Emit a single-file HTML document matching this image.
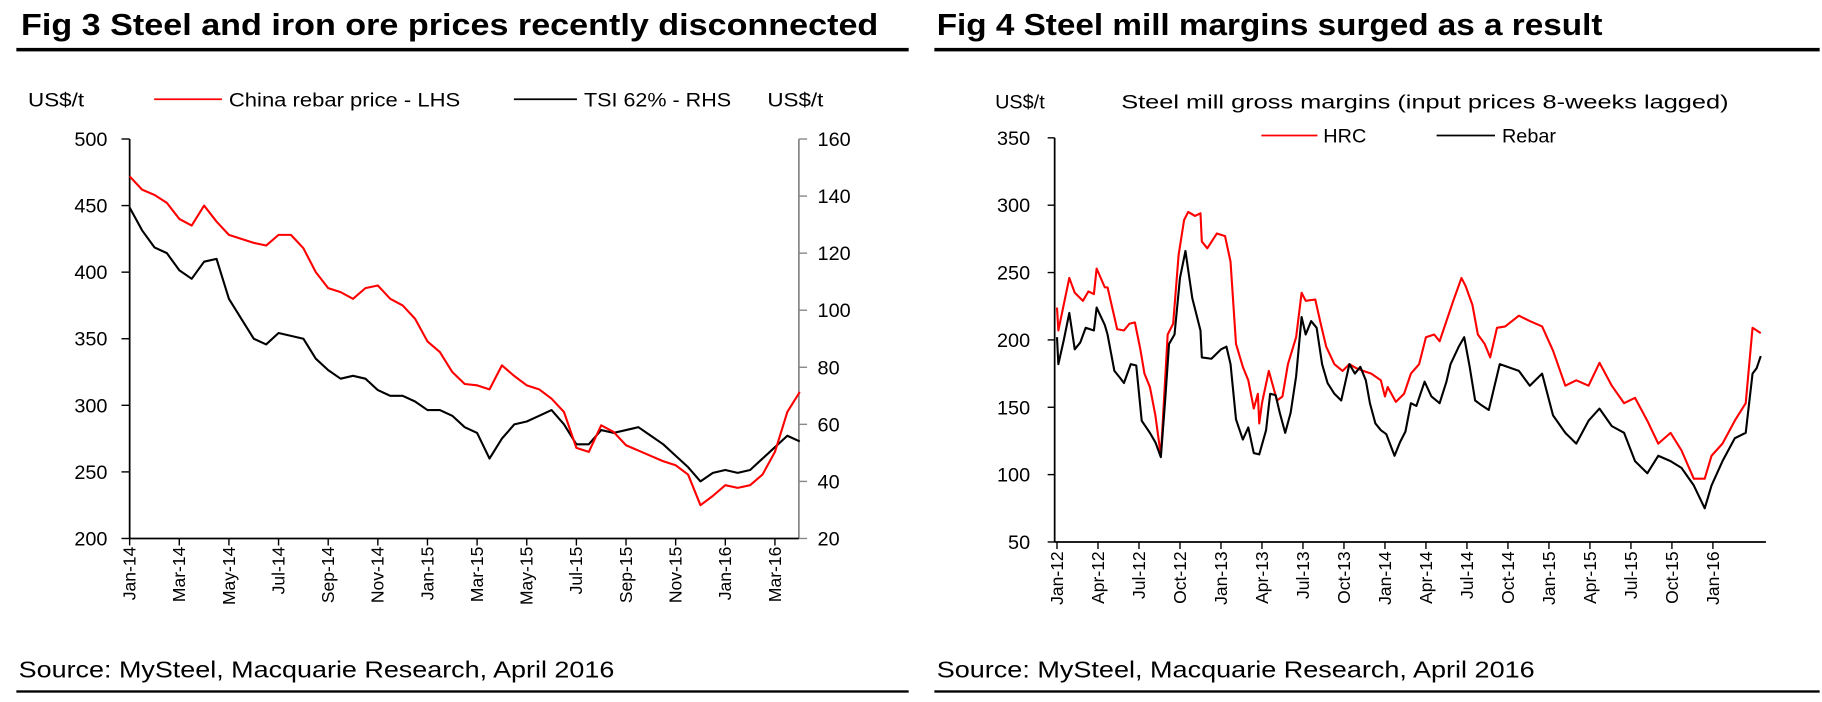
<!DOCTYPE html>
<html><head><meta charset="utf-8"><style>
html,body{margin:0;padding:0;background:#fff;}
svg{display:block;font-family:"Liberation Sans",Arial,sans-serif;}
</style></head><body>
<svg id="s" width="1822" height="702" viewBox="0 0 1560 601" preserveAspectRatio="none" xmlns="http://www.w3.org/2000/svg">
<g>
<text x="18" y="30" font-size="26" font-weight="bold" textLength="734" lengthAdjust="spacingAndGlyphs">Fig 3   Steel and iron ore prices recently disconnected</text>
<rect x="14" y="41" width="764" height="3" fill="#000"/>
</g>
<g>
<text x="802" y="30" font-size="26" font-weight="bold" textLength="570" lengthAdjust="spacingAndGlyphs">Fig 4   Steel mill margins surged as a result</text>
<rect x="800" y="41" width="758" height="3" fill="#000"/>
</g>
<text x="16" y="580" font-size="20" textLength="510" lengthAdjust="spacingAndGlyphs">Source: MySteel, Macquarie Research, April 2016</text>
<rect x="14" y="591" width="764" height="2" fill="#000"/>
<text x="802" y="580" font-size="20" textLength="512" lengthAdjust="spacingAndGlyphs">Source: MySteel, Macquarie Research, April 2016</text>
<rect x="800" y="591" width="758" height="2" fill="#000"/>

<g>
<text x="24" y="91" font-size="17" textLength="48" lengthAdjust="spacingAndGlyphs">US$/t</text>
<line x1="132" y1="85" x2="190" y2="85" stroke="#f00" stroke-width="1.5"/>
<text x="196" y="91" font-size="17" textLength="198" lengthAdjust="spacingAndGlyphs">China rebar price - LHS</text>
<line x1="440" y1="85" x2="494" y2="85" stroke="#000" stroke-width="1.5"/>
<text x="500" y="91" font-size="17" textLength="126" lengthAdjust="spacingAndGlyphs">TSI 62% - RHS</text>
<text x="657" y="91" font-size="17" textLength="48" lengthAdjust="spacingAndGlyphs">US$/t</text>
</g>
<g>
<text x="852" y="93" font-size="17">US$/t</text>
<text x="1220" y="93" font-size="17" text-anchor="middle" textLength="520" lengthAdjust="spacingAndGlyphs">Steel mill gross margins (input prices 8-weeks lagged)</text>
<line x1="1080" y1="116" x2="1128" y2="116" stroke="#f00" stroke-width="1.5"/>
<text x="1133" y="122" font-size="17">HRC</text>
<line x1="1230" y1="116" x2="1280" y2="116" stroke="#000" stroke-width="1.5"/>
<text x="1286" y="122" font-size="17">Rebar</text>
</g>
<g id="c1"></g>
<g id="c2"></g>
</svg>
<script>
// Fig 3 data: two points per month starting Jan-14
const fig3Rebar=[472,462,458,452,440,435,450,438,428,425,422,420,428,428,418,400,388,385,380,388,390,380,375,365,348,340,325,316,315,312,330,322,315,312,305,295,268,265,285,280,270,266,262,258,255,248,225,232,240,238,240,248,265,295,310];
const fig3Tsi=[136,128,122,120,114,111,117,118,104,97,90,88,92,91,90,83,79,76,77,76,72,70,70,68,65,65,63,59,57,48,55,60,61,63,65,60,53,53,58,57,58,59,56,53,49,45,40,43,44,43,44,48,52,56,54];
const fig3LeftTicks=[200,250,300,350,400,450,500];
const fig3RightTicks=[20,40,60,80,100,120,140,160];
const fig3XLabels=["Jan-14","Mar-14","May-14","Jul-14","Sep-14","Nov-14","Jan-15","Mar-15","May-15","Jul-15","Sep-15","Nov-15","Jan-16","Mar-16"];
// Fig 4 data: [month index from Jan-12, value]
const fig4HrcMonths=[0,0.1,0.9,1.3,1.9,2.3,2.7,2.9,3.5,3.7,4.2,4.4,4.9,5.3,5.7,6.1,6.4,6.8,7.2,7.6,8.1,8.5,8.9,9.3,9.6,10.1,10.5,10.6,11,11.7,12.3,12.7,13.1,13.6,14,14.4,14.7,14.8,15,15.5,16.1,16.5,16.9,17.5,17.9,18.2,18.9,19.3,19.7,20.3,20.9,21.4,21.9,22.4,23,23.7,24,24.2,24.8,25.4,25.9,26.5,27,27.6,28,28.5,29,29.6,29.9,30.4,30.8,31.3,31.7,32.2,32.8,33.8,34.6,35.5,36.3,37.2,38,38.9,39.7,40.6,41.5,42.3,43.2,44,44.9,45.7,46.6,47.4,47.9,48.7,49.6,50.4,50.9,51.5];
const fig4HrcValues=[224,207,246,235,229,236,234,253,239,239,217,208,207,212,213,193,175,165,144,114,204,212,263,289,295,292,294,273,268,279,277,258,197,180,170,149,160,138,153,177,155,158,182,202,235,229,230,212,195,182,177,182,179,177,175,170,158,165,154,160,175,182,202,204,199,214,229,246,240,226,204,197,187,209,210,218,214,210,192,166,170,166,183,166,153,157,140,123,131,118,97,97,114,123,140,153,209,205];
const fig4RebarMonths=[0,0.1,0.5,0.9,1.3,1.7,2.1,2.7,2.9,3.5,3.7,4.2,4.6,4.9,5.4,5.8,6.2,6.8,7.2,7.6,7.9,8.2,8.6,9,9.4,9.9,10.5,10.6,11.3,12,12.4,12.7,13.1,13.6,14,14.4,14.8,15.3,15.6,16,16.3,16.7,17.1,17.5,17.9,18.2,18.6,19,19.4,19.8,20.3,20.8,21.4,21.8,22.2,22.6,22.9,23.3,23.7,24.1,24.7,25.1,25.5,25.9,26.3,26.9,27.4,28,28.5,28.8,29.4,29.8,30.2,30.6,31,31.6,32,32.4,33.8,34.6,35.5,36.3,37.2,38,38.9,39.7,40.6,41.5,42.3,43.2,44,44.9,45.7,46.6,47.4,47.9,48.7,49.6,50.4,50.9,51.2,51.5];
const fig4RebarValues=[202,182,200,220,193,198,209,207,224,211,204,177,172,168,182,181,140,131,124,113,153,197,204,246,266,231,207,187,186,193,195,182,141,126,135,116,115,133,160,159,146,131,146,173,217,204,214,209,182,168,160,155,182,175,180,170,153,138,133,130,114,124,132,153,151,169,158,153,169,182,195,202,180,155,152,148,165,182,177,166,175,144,131,123,140,149,136,131,110,101,114,110,105,92,75,92,110,127,131,175,179,188];
const fig4YTicks=[50,100,150,200,250,300,350];
const fig4XLabels=["Jan-12","Apr-12","Jul-12","Oct-12","Jan-13","Apr-13","Jul-13","Oct-13","Jan-14","Apr-14","Jul-14","Oct-14","Jan-15","Apr-15","Jul-15","Oct-15","Jan-16"];

const NS="http://www.w3.org/2000/svg";
function mk(p,tag,at,txt){const e=document.createElementNS(NS,tag);for(const k in at)e.setAttribute(k,at[k]);if(txt!=null)e.textContent=txt;p.appendChild(e);return e;}

// ---- Fig 3 ----
const c1=document.getElementById('c1');
const X1=m=>111+m*21.25;
const YL=v=>461-(v-200)*342/300;
const YR=v=>461-(v-20)*342/140;
let e;
e=mk(c1,'line',{x1:111,y1:119,x2:111,y2:461,stroke:'#000','stroke-width':1.5});


e=mk(c1,'line',{x1:684,y1:119,x2:684,y2:461,stroke:'#888','stroke-width':1.5});


e=mk(c1,'line',{x1:111,y1:461,x2:684,y2:461,stroke:'#000','stroke-width':1.5});


fig3LeftTicks.forEach(v=>{
  mk(c1,'line',{x1:104,y1:YL(v),x2:111,y2:YL(v),stroke:'#000','stroke-width':1.2});
  e=mk(c1,'text',{x:92,y:YL(v)+6,'font-size':17,'text-anchor':'end'},v);
  
  
});
fig3RightTicks.forEach(v=>{
  mk(c1,'line',{x1:684,y1:YR(v),x2:691,y2:YR(v),stroke:'#888','stroke-width':1.2});
  e=mk(c1,'text',{x:700,y:YR(v)+6,'font-size':17},v);
  
  
});
fig3XLabels.forEach((l,i)=>{
  const x=X1(i*2);
  mk(c1,'line',{x1:x,y1:461,x2:x,y2:467,stroke:'#000','stroke-width':1.2});
  e=mk(c1,'text',{x:0,y:0,'font-size':15,'text-anchor':'end',transform:`translate(${x+5},468) rotate(-90)`},l);
  
  
});
e=mk(c1,'polyline',{fill:'none',stroke:'#000','stroke-width':1.8,'stroke-linejoin':'round',points:fig3Tsi.map((v,i)=>X1(i*0.5)+','+YR(v)).join(' ')});


e=mk(c1,'polyline',{fill:'none',stroke:'#f00','stroke-width':1.8,'stroke-linejoin':'round',points:fig3Rebar.map((v,i)=>X1(i*0.5)+','+YL(v)).join(' ')});



// ---- Fig 4 ----
const c2=document.getElementById('c2');
const X2=m=>905+m*11.7;
const Y2=v=>464-(v-50)*346/300;
e=mk(c2,'line',{x1:903,y1:118,x2:903,y2:464,stroke:'#000','stroke-width':1.5});


e=mk(c2,'line',{x1:903,y1:464,x2:1512,y2:464,stroke:'#000','stroke-width':1.5});


fig4YTicks.forEach(v=>{
  mk(c2,'line',{x1:897,y1:Y2(v),x2:903,y2:Y2(v),stroke:'#000','stroke-width':1.2});
  e=mk(c2,'text',{x:882,y:Y2(v)+6,'font-size':17,'text-anchor':'end'},v);
  
  
});
fig4XLabels.forEach((l,i)=>{
  const x=X2(i*3);
  mk(c2,'line',{x1:x,y1:464,x2:x,y2:470,stroke:'#000','stroke-width':1.2});
  e=mk(c2,'text',{x:0,y:0,'font-size':15,'text-anchor':'end',transform:`translate(${x+5},472) rotate(-90)`},l);
  
  
});
e=mk(c2,'polyline',{fill:'none',stroke:'#f00','stroke-width':1.8,'stroke-linejoin':'round',points:fig4HrcValues.map((v,i)=>X2(fig4HrcMonths[i])+','+Y2(v)).join(' ')});


e=mk(c2,'polyline',{fill:'none',stroke:'#000','stroke-width':1.8,'stroke-linejoin':'round',points:fig4RebarValues.map((v,i)=>X2(fig4RebarMonths[i])+','+Y2(v)).join(' ')});


</script>
</body></html>
